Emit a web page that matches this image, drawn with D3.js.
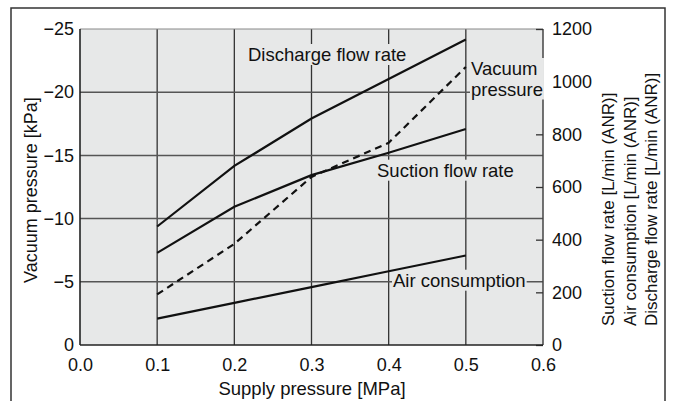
<!DOCTYPE html>
<html>
<head>
<meta charset="utf-8">
<script src="https://cdn.jsdelivr.net/npm/d3@7"></script>
<style>
  body { margin: 0; background: #fff; }
  svg { display: block; font-family: "Liberation Sans", Arial, sans-serif; }
  .tick text { fill: #111; }
</style>
</head>
<body>
<div class="chart"></div>
<script>
// supply pressure [MPa]
var pressure = [0.1, 0.2, 0.3, 0.4, 0.5];
// flow rates [L/min (ANR)], right axis
var discharge = [450, 680, 860, 1010, 1160];
var suction = [350, 525, 645, 730, 820];
var airUse = [100, 160, 220, 280, 340];
// vacuum pressure [kPa], left axis
var vacuum = [-4, -8, -13.3, -16, -22];

var xTicks = [0, 0.1, 0.2, 0.3, 0.4, 0.5, 0.6];
var leftTicks = [0, -5, -10, -15, -20, -25];
var rightTicks = [0, 200, 400, 600, 800, 1000, 1200];

var margin = {top: 29, right: 130, bottom: 56, left: 80},
    width = 673 - margin.left - margin.right,
    height = 401 - margin.top - margin.bottom;

var svg = d3.select(".chart").append("svg")
    .attr("width", 673)
    .attr("height", 401);

// outer frame
svg.append("rect")
  .attr("x", 11).attr("y", 8)
  .attr("width", 654).attr("height", 420)
  .style("fill", "none")
  .style("stroke", "#333")
  .style("stroke-width", 1.5);

var g = svg.append("g")
    .attr("transform", "translate(" + margin.left + "," + margin.top + ")");

var x = d3.scaleLinear().domain([0, 0.6]).range([0, width]);
var yL = d3.scaleLinear().domain([0, -25]).range([height, 0]);
var yR = d3.scaleLinear().domain([0, 1200]).range([height, 0]);

g.append("rect")
  .attr("width", width).attr("height", height)
  .style("fill", "#e7e8e8");

// grid
g.selectAll(".vgrid").data(xTicks.slice(1, 6)).enter().append("line")
  .attr("x1", function (d) { return x(d); }).attr("x2", function (d) { return x(d); })
  .attr("y1", 0).attr("y2", height)
  .style("stroke", "#333").style("stroke-width", 1.3);

g.selectAll(".hgrid").data(leftTicks.slice(1, 5)).enter().append("line")
  .attr("x1", 0).attr("x2", width)
  .attr("y1", function (d) { return yL(d); }).attr("y2", function (d) { return yL(d); })
  .style("stroke", "#555").style("stroke-width", 1.5);

// frame of the plot
g.append("line").attr("x1", 0).attr("x2", width).attr("y1", 0).attr("y2", 0)
  .style("stroke", "#888").style("stroke-width", 1);
g.append("line").attr("x1", width).attr("x2", width).attr("y1", 0).attr("y2", height)
  .style("stroke", "#444").style("stroke-width", 1.5);

// axes
var xAxis = d3.axisBottom(x).tickValues(xTicks).tickSize(0).tickPadding(13)
  .tickFormat(d3.format(".1f"));
var yAxisL = d3.axisLeft(yL).tickValues(leftTicks).tickSize(0).tickPadding(6)
  .tickFormat(function (d) { return d === 0 ? "0" : "\u2212" + Math.abs(d); });
var yAxisR = d3.axisRight(yR).tickValues(rightTicks).tickSize(-7).tickPadding(9)
  .tickFormat(d3.format("d"));

var gx = g.append("g").attr("transform", "translate(0," + height + ")").call(xAxis);
var gl = g.append("g").call(yAxisL);
var gr = g.append("g").attr("transform", "translate(" + width + ",0)").call(yAxisR);

[gx, gl, gr].forEach(function (a) {
  a.select(".domain").remove();
  a.selectAll("text").style("font-size", "18px");
});
gr.selectAll("line").style("stroke", "#333").style("stroke-width", 1.3);

g.append("line").attr("x1", 0).attr("x2", width).attr("y1", height).attr("y2", height)
  .style("stroke", "#222").style("stroke-width", 1.6);
g.append("line").attr("x1", 0).attr("x2", 0).attr("y1", 0).attr("y2", height)
  .style("stroke", "#222").style("stroke-width", 1.6);

// labels with background boxes
function label(px, py, lines) {
  var lg = g.append("g");
  var t = lg.append("text")
    .attr("x", px).attr("y", py)
    .style("font-size", "18.5px").style("fill", "#111");
  lines.forEach(function (s, i) {
    t.append("tspan").attr("x", px).attr("dy", i === 0 ? 0 : 20.5).text(s);
  });
  var b = t.node().getBBox();
  lg.insert("rect", "text")
    .attr("x", b.x - 1).attr("y", b.y)
    .attr("width", b.width + 2).attr("height", b.height)
    .style("fill", "#e7e8e8");
}
label(168, 32, ["Discharge flow rate"]);
label(297, 147.7, ["Suction flow rate"]);
label(313, 257.7, ["Air consumption"]);
label(391, 46, ["Vacuum", "pressure"]);

// lines
var lineR = d3.line()
  .x(function (d, i) { return x(pressure[i]); })
  .y(function (d) { return yR(d); });
var lineL = d3.line()
  .x(function (d, i) { return x(pressure[i]); })
  .y(function (d) { return yL(d); });

[discharge, suction, airUse].forEach(function (s) {
  g.append("path").datum(s).attr("d", lineR)
    .style("fill", "none").style("stroke", "#111").style("stroke-width", 2.2);
});
g.append("path").datum(vacuum).attr("d", lineL)
  .style("fill", "none").style("stroke", "#111").style("stroke-width", 2.2)
  .style("stroke-dasharray", "7,5");

// axis titles
svg.append("text")
  .attr("x", 312).attr("y", 395)
  .attr("text-anchor", "middle")
  .style("font-size", "18.5px").style("fill", "#111")
  .text("Supply pressure [MPa]");

svg.append("text")
  .attr("transform", "translate(37,283) rotate(-90)")
  .style("font-size", "18px").style("fill", "#111")
  .text("Vacuum pressure [kPa]");

var rightTitles = ["Suction flow rate [L/min (ANR)]",
                   "Air consumption [L/min (ANR)]",
                   "Discharge flow rate [L/min (ANR)]"];
rightTitles.forEach(function (s, i) {
  svg.append("text")
    .attr("transform", "translate(" + (614 + i * 21.5) + ",326) rotate(-90)")
    .style("font-size", "17px").style("fill", "#111")
    .text(s);
});
</script>
</body>
</html>
